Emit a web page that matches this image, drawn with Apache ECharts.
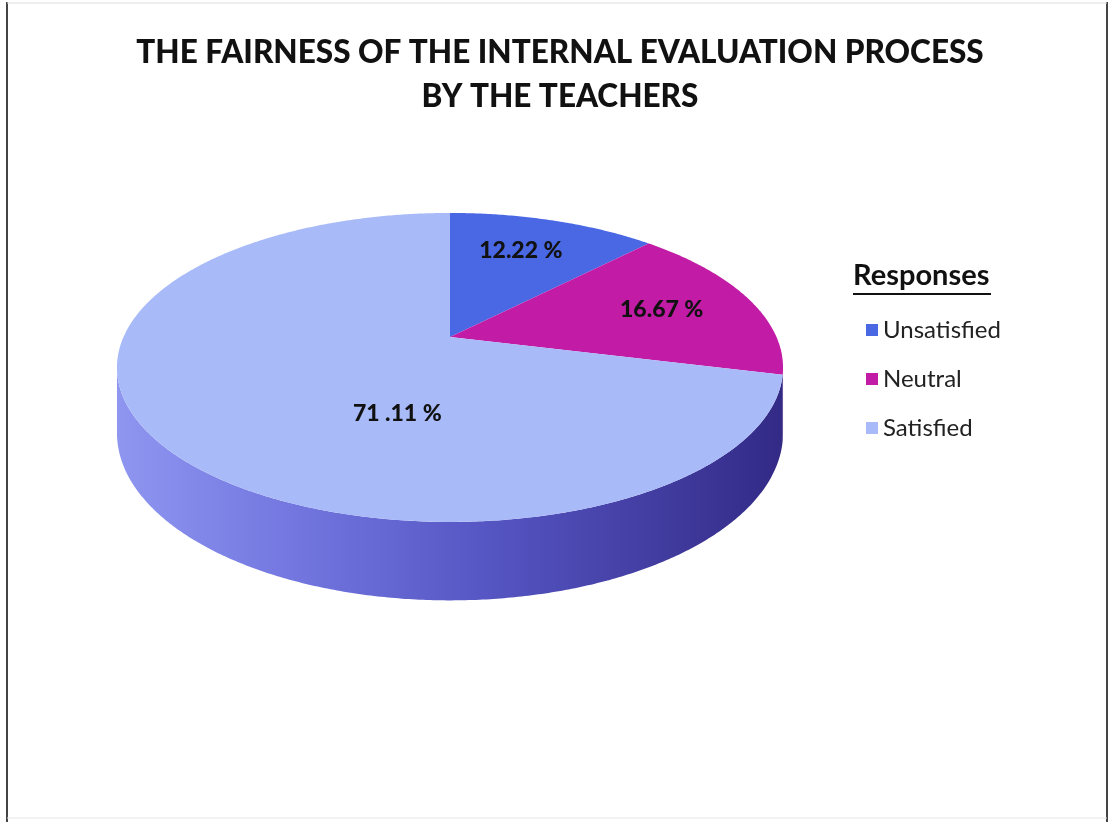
<!DOCTYPE html>
<html>
<head>
<meta charset="utf-8">
<script src="https://cdn.jsdelivr.net/npm/echarts@6/dist/echarts.min.js"></script>
<style>html,body{margin:0;padding:0;background:#fff}#c{width:1109px;height:822px}</style>
</head>
<body>
<div id="c"></div>
<script>
// ---- data ----
const categories = ['Unsatisfied', 'Neutral', 'Satisfied'];
const values = [12.22, 16.67, 71.11];
const labelTexts = ['12.22 %', '16.67 %', '71 .11 %'];
const titleLines = ['THE FAIRNESS OF THE INTERNAL EVALUATION PROCESS', 'BY THE TEACHERS'];
const legendTitle = 'Responses';

// ---- style ----
const colors = ['#4a68e4', '#c21ba6', '#a8baf8'];
const sideColors = ['#2a3c8c', '#6a1060', null];
const labelPlace = [{r: 0.7, shift: -1.5}, {r: 0.7, shift: 0}, {r: 0.49, shift: -34.6}];
const P = {cx: 450, cy: 337, A: 326.5, B: 148.5, k: 0.197, H: 63};
const FONT = 'Lato, "Open Sans", sans-serif';

const total = values.reduce((a, b) => a + b, 0);
const starts = [];
let acc = 0;
values.forEach(v => { starts.push(acc / total * Math.PI * 2); acc += v; });

function proj(phi, r, drop) {
  const u = r * Math.sin(phi), v = r * Math.cos(phi);
  const w = 1 + P.k * v;
  return [P.cx + P.A * u / w, P.cy - P.B * v / w + (drop ? P.H / w : 0)];
}
function arcPts(a, b, drop) {
  const n = Math.max(2, Math.ceil(Math.abs(b - a) / (Math.PI / 360)));
  const pts = [];
  for (let i = 0; i <= n; i++) pts.push(proj(a + (b - a) * i / n, 1, drop));
  return pts;
}
const phiR = Math.acos(-P.k), phiL = Math.PI * 2 - phiR;

function sliceRender(idx) {
  return function (params, api) {
    const val = api.value(0);
    const a = starts[idx], b = a + val / total * Math.PI * 2;
    const pts = [[P.cx, P.cy]].concat(arcPts(a, b, false));
    const mid = (a + b) / 2 + labelPlace[idx].shift * Math.PI / 180;
    const lp = proj(mid, labelPlace[idx].r, false);
    return {
      type: 'group',
      children: [
        {type: 'polygon', shape: {points: pts}, style: {fill: colors[idx]}, z2: 10},
        {type: 'text', x: lp[0], y: lp[1], z2: 100,
          style: {text: labelTexts[idx], fill: '#111', font: '900 23px ' + FONT, align: 'center', verticalAlign: 'middle'}}
      ]
    };
  };
}

function sideRender(params, api) {
  const children = [];
  values.forEach((v, idx) => {
    const a = Math.max(starts[idx], phiR), b = Math.min(starts[idx] + v / total * Math.PI * 2, phiL);
    if (b <= a) return;
    const top = arcPts(a, b, false), bot = arcPts(a, b, true).reverse();
    const fill = sideColors[idx] || {
      type: 'linear', x: 118, y: 0, x2: 782, y2: 0, global: true,
      colorStops: [{offset: 0, color: '#8e96f0'}, {offset: 0.25, color: '#7478e0'},
        {offset: 0.55, color: '#5656c4'}, {offset: 1, color: '#332a86'}]
    };
    children.push({type: 'polygon', shape: {points: top.concat(bot)}, style: {fill: fill}});
  });
  return {type: 'group', children: children};
}

const series = [{
  type: 'custom', name: '_side', coordinateSystem: 'none', z: 1, silent: true,
  data: [[0]], renderItem: sideRender
}];
categories.forEach((c, i) => {
  series.push({
    type: 'custom', name: c, coordinateSystem: 'none', z: 2,
    itemStyle: {color: colors[i]},
    data: [[values[i]]], renderItem: sliceRender(i)
  });
});

const chart = echarts.init(document.getElementById('c'), null, {renderer: 'canvas'});
chart.setOption({
  backgroundColor: '#fff',
  animation: false,
  title: {
    text: titleLines.join('\n'), left: 555, top: 26, textAlign: 'center',
    textStyle: {fontFamily: FONT, fontWeight: 900, fontSize: 31.5, lineHeight: 44, color: '#111'}
  },
  legend: {
    data: categories, orient: 'vertical', left: 861, top: 313, icon: 'rect',
    itemWidth: 12, itemHeight: 12, itemGap: 25,
    textStyle: {fontFamily: FONT, fontSize: 24, lineHeight: 24, color: '#222'}
  },
  graphic: [
    {type: 'text', left: 853, top: 261, style: {text: legendTitle, font: 'bold 29px ' + FONT, fill: '#111'}},
    {type: 'rect', shape: {x: 853, y: 293, width: 138, height: 2}, style: {fill: '#111'}},
    {type: 'line', shape: {x1: 7, y1: 2, x2: 7, y2: 822}, style: {stroke: '#444', lineWidth: 2}},
    {type: 'line', shape: {x1: 1107, y1: 2, x2: 1107, y2: 822}, style: {stroke: '#444', lineWidth: 2}},
    {type: 'line', shape: {x1: 7, y1: 3, x2: 1107, y2: 3}, style: {stroke: '#ddd', lineWidth: 1}},
    {type: 'line', shape: {x1: 7, y1: 818, x2: 1107, y2: 818}, style: {stroke: '#e6e6e6', lineWidth: 1}}
  ],
  series: series
});
</script>
</body>
</html>
